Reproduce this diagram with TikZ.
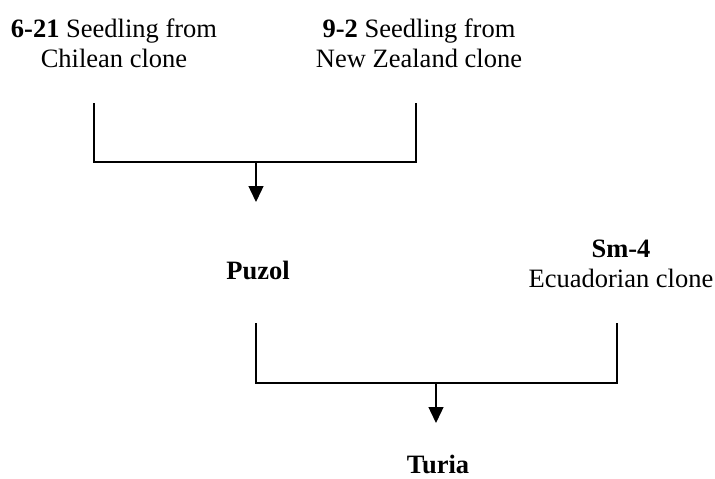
\documentclass[tikz,border=0pt]{standalone}
\usepackage{fontspec}
\setmainfont{Liberation Serif}
\usetikzlibrary{arrows.meta}
\begin{document}
\begin{tikzpicture}[x=1pt, y=-1pt, font=\fontsize{26.5}{30}\selectfont, line width=1.4pt, >={Triangle[length=16pt,width=15pt]}]
		\tikzset{lbl/.style={inner sep=0pt, anchor=base, align=center}}
		\useasboundingbox (0,0) rectangle (715,479);
		% parents and offspring (base = last line)
		\node[lbl] (seedA) at (114,67) {\textbf{6-21} Seedling from\\Chilean clone};
		\node[lbl] (seedB) at (419,67) {\textbf{9-2} Seedling from\\New Zealand clone};
		\node[lbl] (puzol) at (258,279) {\textbf{Puzol}};
		\node[lbl] (smfour) at (621,287) {\textbf{Sm-4}\\Ecuadorian clone};
		\node[lbl] (turia) at (438,473) {\textbf{Turia}};
		% first cross
		\coordinate (a1) at (94,103); \coordinate (a2) at (94,162);
		\coordinate (a3) at (416,162); \coordinate (a4) at (416,103);
		\coordinate (am) at (256,162); \coordinate (at) at (256,202);
		\draw (a1)--(a2)--(a3)--(a4);
		\draw[->] (am)--(at);
		% second cross
		\coordinate (b1) at (256,323); \coordinate (b2) at (256,383);
		\coordinate (b3) at (617,383); \coordinate (b4) at (617,323);
		\coordinate (bm) at (436,383); \coordinate (bt) at (436,423);
		\draw (b1)--(b2)--(b3)--(b4);
		\draw[->] (bm)--(bt);
\end{tikzpicture}
\end{document}
